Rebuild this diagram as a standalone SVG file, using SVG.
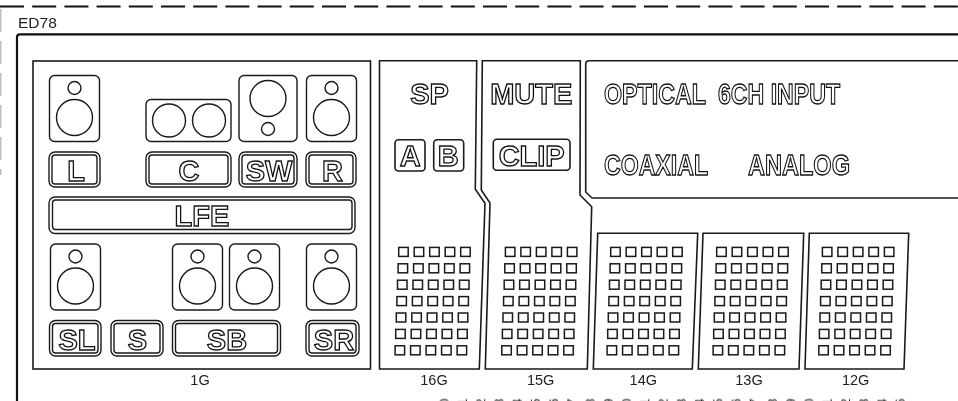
<svg xmlns="http://www.w3.org/2000/svg" width="958" height="401" viewBox="0 0 958 401">
<style>
text{filter:url(#n)}
.o{fill:none;stroke:#1a1a1a;stroke-width:1.4}
.f{fill:none;stroke:#1a1a1a;stroke-width:1.6}
.big{font-family:"Liberation Sans",Arial,sans-serif;font-weight:700;font-size:29px;fill:#fff;stroke:#111;stroke-width:1.3;text-anchor:middle}
.bl{text-anchor:start}
.t{font-family:"Liberation Sans",Arial,sans-serif;font-size:14.5px;fill:#222;text-anchor:middle}
.d{font-family:"Liberation Sans",Arial,sans-serif;font-size:13px;fill:#222;text-anchor:end}
.g{fill:none;stroke:#1a1a1a;stroke-width:1.5}
</style>
<defs>
<filter id="n" x="-50%" y="-50%" width="200%" height="200%"><feOffset dx="0" dy="0"/></filter>
<g id="row"><rect x="0" y="0" width="9.500" height="9"/><rect x="15.500" y="0" width="9.500" height="9"/><rect x="31" y="0" width="9.500" height="9"/><rect x="46.500" y="0" width="9.500" height="9"/><rect x="62" y="0" width="9.500" height="9"/></g>
<g id="grid" class="g"><use href="#row" x="0" y="0"/><use href="#row" x="-.6" y="16.400"/><use href="#row" x="-1.200" y="32.800"/><use href="#row" x="-1.800" y="49.200"/><use href="#row" x="-2.400" y="65.600"/><use href="#row" x="-3" y="82"/><use href="#row" x="-3.600" y="98.400"/></g>
<g id="spk" class="o"><rect x="0" y="0" width="50" height="66" rx="5"/><circle cx="25" cy="12.500" r="6.500"/><circle cx="25" cy="42" r="18"/></g>
</defs>
<g id="frame">
<path d="M0 6.500H958" fill="none" stroke="#111" stroke-width="2.200" stroke-dasharray="24 8.200"/>
<path d="M.7 9V175" fill="none" stroke="#bbb" stroke-width="1.400" stroke-dasharray="23 9"/>
<path d="M17 401V37Q17 34.300 20 34.300H958" fill="none" stroke="#111" stroke-width="2.200"/>
<text class="t" x="18" y="28" style="text-anchor:start;font-size:15.500px">ED78</text>
</g>
<g id="g1">
<rect class="f" x="33" y="61" width="337.500" height="308"/>
<text class="t" x="200" y="385">1G</text>
<use href="#spk" x="49.500" y="75.500"/>
<g class="o"><rect x="146" y="99.500" width="85" height="42" rx="5"/><circle cx="169" cy="120.500" r="16.500"/><circle cx="209" cy="120.500" r="16.500"/></g>
<g class="o"><rect x="239" y="75.500" width="58" height="66" rx="5"/><circle cx="268" cy="98.500" r="18"/><circle cx="268" cy="129" r="6.500"/></g>
<use href="#spk" x="306.500" y="75.500"/>
<use href="#spk" x="50.500" y="244"/>
<use href="#spk" x="172.500" y="244"/>
<use href="#spk" x="229.500" y="244"/>
<use href="#spk" x="306.500" y="244"/>
<g class="o">
<rect x="49" y="152" width="51" height="35" rx="6"/><rect x="52" y="155" width="45" height="29" rx="3"/>
<rect x="146" y="152" width="85" height="35" rx="6"/><rect x="149" y="155" width="79" height="29" rx="3"/>
<rect x="239" y="152" width="58" height="35" rx="6"/><rect x="242" y="155" width="52" height="29" rx="3"/>
<rect x="306" y="152" width="50" height="35" rx="6"/><rect x="309" y="155" width="44" height="29" rx="3"/>
<rect x="49" y="197" width="306" height="36.500" rx="6"/><rect x="52.500" y="200" width="299.500" height="29.500" rx="3"/>
<rect x="49.500" y="320.500" width="51.500" height="35.500" rx="6"/><rect x="52.500" y="323.500" width="45.500" height="29.500" rx="3"/>
<rect x="111" y="320.500" width="52" height="35.500" rx="6"/><rect x="114" y="323.500" width="46" height="29.500" rx="3"/>
<rect x="172.500" y="320.500" width="108" height="35.500" rx="6"/><rect x="175.500" y="323.500" width="102" height="29.500" rx="3"/>
<rect x="306" y="320.500" width="53" height="35.500" rx="6"/><rect x="309" y="323.500" width="47" height="29.500" rx="3"/>
</g>
<text class="big" x="76" y="180.500">L</text>
<text class="big" x="189" y="180.500">C</text>
<text class="big" x="269" y="180.500">SW</text>
<text class="big" x="332.500" y="180.500">R</text>
<text class="big" x="202" y="226">LFE</text>
<text class="big" x="77" y="349.500">SL</text>
<text class="big" x="137.500" y="349.500">S</text>
<text class="big" x="227" y="349.500">SB</text>
<text class="big" x="334" y="349.500">SR</text>
</g>
<g id="g16">
<path class="f" d="M379.500 60.700H476.700L475.300 189.300L485 203.300L479.300 369H379.500Z"/>
<text class="big" x="429.500" y="104">SP</text>
<rect class="f" x="395" y="139.700" width="30" height="31.300" rx="3.500"/>
<rect class="f" x="433.700" y="139.700" width="30" height="31.300" rx="3.500"/>
<text class="big" x="410.300" y="166">A</text>
<text class="big" x="448.300" y="166">B</text>
<use href="#grid" x="398.700" y="247.400"/>
<text class="t" x="434" y="385">16G</text>
</g>
<g id="g15">
<path class="f" d="M482.300 60.700H580.300L580 195L591.700 206.700L587.300 369H485.300L490 203L481.300 190Z"/>
<text class="big" x="531.300" y="104">MUTE</text>
<rect class="f" x="493.300" y="139.300" width="76.700" height="31" rx="3.500"/>
<text class="big" x="531.700" y="166">CLIP</text>
<use href="#grid" x="505.400" y="247.400"/>
<text class="t" x="540.700" y="385">15G</text>
</g>
<g id="display">
<path class="f" d="M958 60.700H589Q585.700 60.700 585.700 64V192L592 198H958"/>
<text class="big bl" x="604" y="104" textLength="102" lengthAdjust="spacingAndGlyphs">OPTICAL</text>
<text class="big bl" x="718" y="104" textLength="122" lengthAdjust="spacingAndGlyphs">6CH INPUT</text>
<text class="big bl" x="604" y="175" textLength="104" lengthAdjust="spacingAndGlyphs">COAXIAL</text>
<text class="big bl" x="748" y="175" textLength="102" lengthAdjust="spacingAndGlyphs">ANALOG</text>
</g>
<g id="g14">
<path class="f" d="M597.700 233.300H697.700L692.300 369H593.300Z"/>
<use href="#grid" x="610.700" y="247.400"/>
<text class="t" x="643.300" y="385">14G</text>
</g>
<g id="g13">
<path class="f" d="M703 233.300H803.700L799 369H698.300Z"/>
<use href="#grid" x="716.700" y="247.400"/>
<text class="t" x="749" y="385">13G</text>
</g>
<g id="g12">
<path class="f" d="M809.300 233.300H908.700L904 369H805Z"/>
<use href="#grid" x="822.400" y="247.400"/>
<text class="t" x="855.700" y="385">12G</text>
</g>
<g id="pins">
<text class="d" transform="translate(448.700 398.500) rotate(-90)">0</text>
<text class="d" transform="translate(466.900 398.500) rotate(-90)">1</text>
<text class="d" transform="translate(485.200 398.500) rotate(-90)">2</text>
<text class="d" transform="translate(503.400 398.500) rotate(-90)">3</text>
<text class="d" transform="translate(521.700 398.500) rotate(-90)">4</text>
<text class="d" transform="translate(539.900 398.500) rotate(-90)">5</text>
<text class="d" transform="translate(558.100 398.500) rotate(-90)">6</text>
<text class="d" transform="translate(576.400 398.500) rotate(-90)">7</text>
<text class="d" transform="translate(594.600 398.500) rotate(-90)">8</text>
<text class="d" transform="translate(612.900 398.500) rotate(-90)">9</text>
<text class="d" transform="translate(631.100 398.500) rotate(-90)">0</text>
<text class="d" transform="translate(649.300 398.500) rotate(-90)">1</text>
<text class="d" transform="translate(667.600 398.500) rotate(-90)">2</text>
<text class="d" transform="translate(685.800 398.500) rotate(-90)">3</text>
<text class="d" transform="translate(704.100 398.500) rotate(-90)">4</text>
<text class="d" transform="translate(722.300 398.500) rotate(-90)">5</text>
<text class="d" transform="translate(740.500 398.500) rotate(-90)">6</text>
<text class="d" transform="translate(758.800 398.500) rotate(-90)">7</text>
<text class="d" transform="translate(777 398.500) rotate(-90)">8</text>
<text class="d" transform="translate(795.300 398.500) rotate(-90)">9</text>
<text class="d" transform="translate(813.500 398.500) rotate(-90)">0</text>
<text class="d" transform="translate(831.700 398.500) rotate(-90)">1</text>
<text class="d" transform="translate(850 398.500) rotate(-90)">2</text>
<text class="d" transform="translate(868.200 398.500) rotate(-90)">3</text>
<text class="d" transform="translate(886.500 398.500) rotate(-90)">4</text>
<text class="d" transform="translate(904.700 398.500) rotate(-90)">5</text>
</g>
</svg>
